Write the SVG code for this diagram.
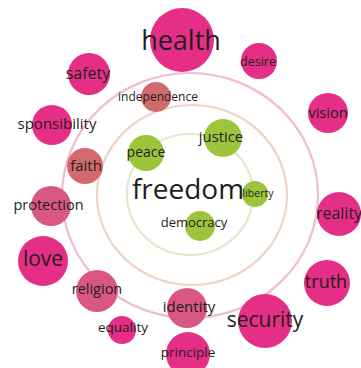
<svg xmlns="http://www.w3.org/2000/svg" width="361" height="368" viewBox="0 0 361 368">
<style>
text{font-family:"Open Sans","Noto Sans","DejaVu Sans",sans-serif;fill:#1e1e1e;text-anchor:middle}
.ring{fill:none;stroke-width:2.2}
.m{fill:#e52e86}
.r{fill:#d16a6c}
.p{fill:#d95883}
.g{fill:#9dc53c}
</style>
<rect width="361" height="368" fill="#ffffff"/>
<g id="rings">
<ellipse class="ring" cx="190" cy="195.5" rx="128" ry="122.5" stroke="#f2bccf"/>
<ellipse class="ring" cx="192" cy="195" rx="95" ry="90" stroke="#efd3c6"/>
<ellipse class="ring" cx="190" cy="194.5" rx="63" ry="60.5" stroke="#dfe9cc"/>
</g>
<g id="health"><circle class="m" cx="182" cy="40" r="32"/><text x="181" y="50" font-size="27">health</text></g>
<g id="desire"><circle class="m" cx="259" cy="61" r="18"/><text x="258" y="66" font-size="12.5">desire</text></g>
<g id="safety"><circle class="m" cx="89" cy="74" r="21"/><text x="88" y="79" font-size="16">safety</text></g>
<g id="independence"><circle class="r" cx="156" cy="97" r="15"/><text x="158" y="101" font-size="12">independence</text></g>
<g id="vision"><circle class="m" cx="328" cy="113" r="20"/><text x="328" y="118" font-size="14.5">vision</text></g>
<g id="sponsibility"><circle class="m" cx="52" cy="125" r="20"/><text x="57" y="129" font-size="15">sponsibility</text></g>
<g id="peace"><circle class="g" cx="146" cy="153" r="18"/><text x="146" y="157" font-size="14">peace</text></g>
<g id="justice"><circle class="g" cx="223" cy="138" r="19"/><text x="221" y="142" font-size="14.8">justice</text></g>
<g id="faith"><circle class="r" cx="85" cy="166" r="18"/><text x="86" y="171" font-size="15">faith</text></g>
<g id="freedom"><text x="188" y="199" font-size="28">freedom</text></g>
<g id="liberty"><circle class="g" cx="255" cy="194" r="13"/><text x="258" y="197" font-size="10.5">liberty</text></g>
<g id="protection"><circle class="p" cx="51" cy="206" r="20"/><text x="48.5" y="210" font-size="14.5">protection</text></g>
<g id="reality"><circle class="m" cx="339" cy="214" r="22"/><text x="339" y="219" font-size="16">reality</text></g>
<g id="democracy"><circle class="g" cx="200" cy="226" r="15"/><text x="194" y="227" font-size="13">democracy</text></g>
<g id="love"><circle class="m" cx="43" cy="261" r="25"/><text x="43" y="266" font-size="21">love</text></g>
<g id="truth"><circle class="m" cx="327" cy="283" r="23"/><text x="326" y="288" font-size="18">truth</text></g>
<g id="religion"><circle class="p" cx="97" cy="291" r="21"/><text x="97" y="294" font-size="14.5">religion</text></g>
<g id="identity"><circle class="p" cx="187" cy="308" r="20"/><text x="189" y="312" font-size="15">identity</text></g>
<g id="security"><circle class="m" cx="265" cy="321" r="27"/><text x="265" y="327" font-size="21">security</text></g>
<g id="equality"><circle class="m" cx="122" cy="330" r="14"/><text x="123" y="332" font-size="13.5">equality</text></g>
<g id="principle"><circle class="m" cx="188" cy="354" r="22"/><text x="188" y="357" font-size="13.5">principle</text></g>
</svg>
